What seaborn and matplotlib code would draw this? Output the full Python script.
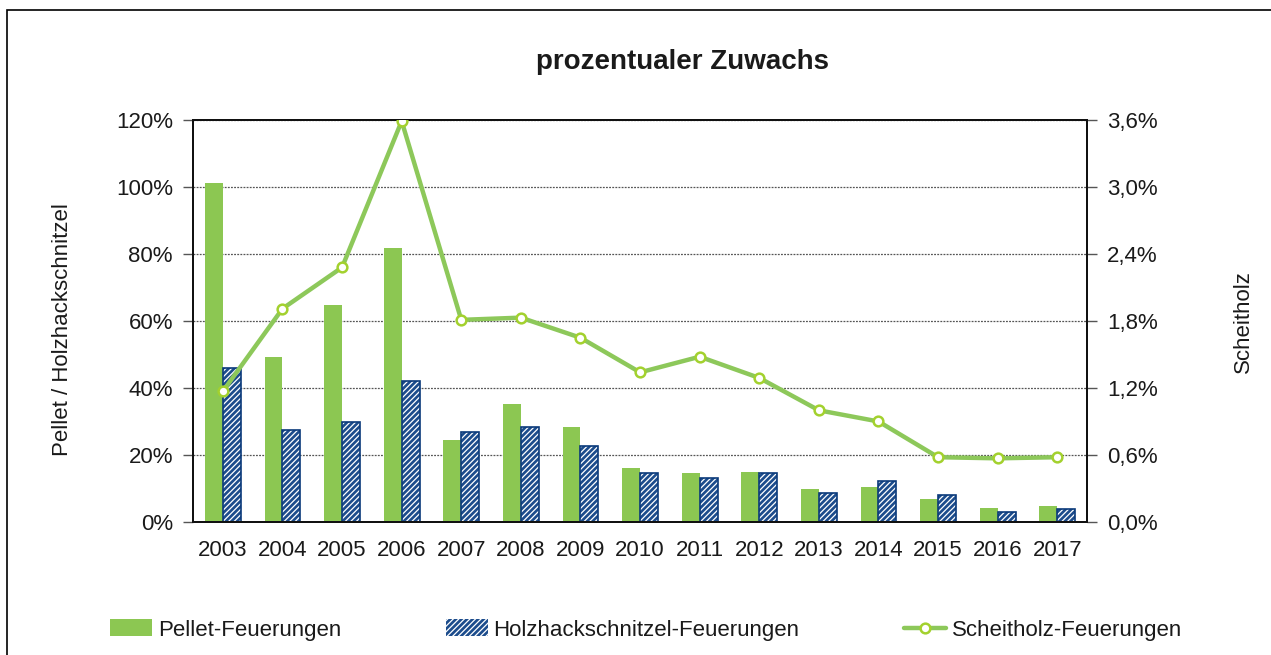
import numpy as np
import matplotlib as mpl
mpl.use('Agg')

import matplotlib.pyplot as plt
from matplotlib.patches import Rectangle
from matplotlib.lines import Line2D
from matplotlib.ticker import FuncFormatter, FixedLocator
import pandas as pd
import seaborn as sns

years = ["2003", "2004", "2005", "2006", "2007", "2008", "2009", "2010",
         "2011", "2012", "2013", "2014", "2015", "2016", "2017"]
pellet = [101.3, 49.1, 64.8, 81.7, 24.5, 35.1, 28.4, 16.0,
          14.5, 14.8, 9.9, 10.3, 6.9, 4.1, 4.7]
holz = [46.1, 27.5, 29.7, 42.1, 26.9, 28.4, 22.6, 14.5,
        13.2, 14.5, 8.7, 12.3, 8.0, 2.9, 3.8]
scheitholz = [1.17, 1.91, 2.28, 3.59, 1.81, 1.83, 1.65, 1.34,
              1.48, 1.29, 1.00, 0.90, 0.58, 0.57, 0.58]

series_names = ["Pellet-Feuerungen", "Holzhackschnitzel-Feuerungen", "Scheitholz-Feuerungen"]
green = "#8CC752"
navy = "#1C4C8C"
navy_edge = "#0B3A7A"
line_green = "#8DC85A"
marker_edge = "#A3D12E"
txt = "#1a1a1a"
fs = 16

sns.set_style("white")
plt.rcParams['font.family'] = ['Liberation Sans', 'DejaVu Sans']
plt.rcParams['hatch.linewidth'] = 0.9

df = pd.DataFrame({
    "Jahr": years * 2,
    "Wert": pellet + holz,
    "Serie": [series_names[0]] * len(years) + [series_names[1]] * len(years),
})

fig = plt.figure(figsize=(12.71, 6.55), dpi=100)
ax = fig.add_axes([0.1519, 0.2031, 0.7034, 0.6137])

sns.barplot(data=df, x="Jahr", y="Wert", hue="Serie", ax=ax,
            palette={series_names[0]: green, series_names[1]: navy},
            width=0.6, gap=0, legend=False, saturation=1, linewidth=0)

# hatch the wood chip bars, white stripes on navy, then a navy outline
for p in ax.containers[1]:
    p.set_hatch("//////")
    p.set_edgecolor("white")
    p.set_linewidth(0)
    b = p.get_bbox()
    ax.add_patch(Rectangle((b.x0, b.y0), b.width, b.height, fill=False,
                           edgecolor=navy_edge, linewidth=1.2, zorder=p.get_zorder() + 0.1))

ax.set_xlim(-0.5, len(years) - 0.5)
ax.set_ylim(0, 120)
ax.yaxis.set_major_locator(FixedLocator(np.arange(0, 121, 20)))
ax.yaxis.set_major_formatter(FuncFormatter(lambda v, p: f"{v:.0f}%"))
ax.set_axisbelow(True)
ax.grid(axis="y", color="#555555", linestyle=(0, (1.5, 1)), linewidth=0.9)
ax.set_xlabel("")
ax.set_ylabel("")
ax.tick_params(axis="x", length=0, labelsize=fs, labelcolor=txt, pad=13)
ax.set_xticks(np.arange(-0.5, len(years), 1.0), minor=True)
ax.tick_params(axis="x", which="minor", length=7, width=1, color="#333333", direction="out")
ax.tick_params(axis="y", length=7, width=1, color="#555555", labelsize=fs, labelcolor=txt, pad=7.5, left=True)
for s in ax.spines.values():
    s.set_color("#111111")
    s.set_linewidth(1.4)

ax2 = ax.twinx()
sns.lineplot(x=np.arange(len(years)), y=scheitholz, ax=ax2, color=line_green,
             linewidth=3.2, marker="o", markersize=7, markerfacecolor="white",
             markeredgecolor=marker_edge, markeredgewidth=1.8, zorder=5)
ax2.set_ylim(0, 3.6)
ax2.yaxis.set_major_locator(FixedLocator(np.arange(0, 3.61, 0.6)))
ax2.yaxis.set_major_formatter(FuncFormatter(lambda v, p: f"{v:.1f}%".replace(".", ",")))
ax2.tick_params(axis="y", length=7, width=1, color="#555555", labelsize=fs, labelcolor=txt, pad=7.5, right=True)
ax2.set_ylabel("")
for s in ax2.spines.values():
    s.set_color("#111111")
    s.set_linewidth(1.4)

fig.text(62 / 1271, 1 - 330 / 655, "Pellet / Holzhackschnitzel", rotation=90,
         ha="center", va="center", fontsize=fs, color=txt)
fig.text(1243 / 1271, 1 - 322 / 655, "Scheitholz", rotation=90,
         ha="center", va="center", fontsize=fs, color=txt)
fig.text(683 / 1271, 1 - 62 / 655, "prozentualer Zuwachs", ha="center", va="center",
         fontsize=20, fontweight="bold", color=txt)

handles = [
    Rectangle((0, 0), 1, 1, facecolor=green, edgecolor="none"),
    Rectangle((0, 0), 1, 1, facecolor=navy, edgecolor="white", hatch="//////", linewidth=0),
    Line2D([0], [0], color=line_green, linewidth=3.2, marker="o", markersize=7,
           markerfacecolor="white", markeredgecolor=marker_edge, markeredgewidth=1.8),
]
fig.legend(handles, series_names, loc="center", bbox_to_anchor=(646 / 1271, 1 - 630 / 655),
           ncol=3, frameon=False, fontsize=fs, handlelength=1.9, handleheight=0.8,
           handletextpad=0.25, columnspacing=4.7, labelcolor=txt)

fig.add_artist(Rectangle((7 / 1271, -0.05), 1.1, 1 - 10 / 655 + 0.05,
                         transform=fig.transFigure, fill=False, edgecolor="black", linewidth=1.2))

fig.savefig("out.png", dpi=100)
